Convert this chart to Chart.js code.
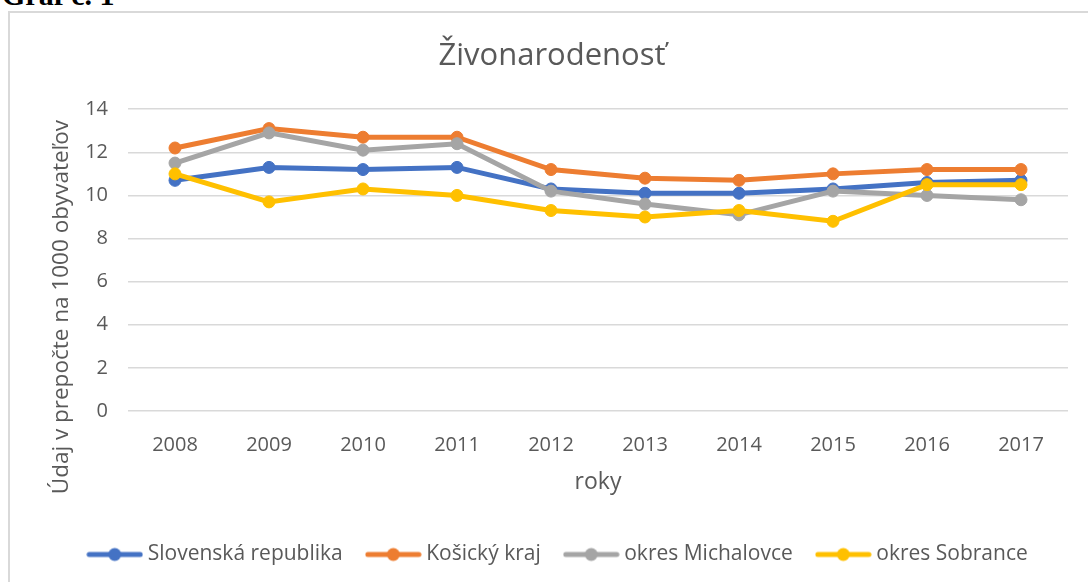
<!DOCTYPE html>
<html lang="sk">
<head>
<meta charset="utf-8">
<title>Živonarodenosť</title>
<script src="https://cdn.jsdelivr.net/npm/chart.js@4.4.0/dist/chart.umd.min.js"></script>
<style>
  html, body { margin: 0; padding: 0; overflow: hidden; background: #fff; width: 1088px; height: 582px; }
  #caption { position: absolute; left: 2px; top: -20px; font: bold 30px "Liberation Serif", "Times New Roman", serif; line-height: 30px; color: #000; }
  #box { position: absolute; left: 8px; top: 11px; width: 1094px; height: 575px; border: 2px solid #d9d9d9; }
  #chart { display: block; }
</style>
</head>
<body>
<div id="caption">Graf č. 1</div>
<div id="box"><canvas id="chart" width="1094" height="575"></canvas></div>
<script>
/* Graf č. 1 – živonarodenosť 2008–2017 */
const years = ["2008", "2009", "2010", "2011", "2012", "2013", "2014", "2015", "2016", "2017"];
const slovensko = [10.7, 11.3, 11.2, 11.3, 10.3, 10.1, 10.1, 10.3, 10.6, 10.7];
const kosickyKraj = [12.2, 13.1, 12.7, 12.7, 11.2, 10.8, 10.7, 11.0, 11.2, 11.2];
const michalovce = [11.5, 12.9, 12.1, 12.4, 10.2, 9.6, 9.1, 10.2, 10.0, 9.8];
const sobrance = [11.0, 9.7, 10.3, 10.0, 9.3, 9.0, 9.3, 8.8, 10.5, 10.5];
const seriesNames = ["Slovenská republika", "Košický kraj", "okres Michalovce", "okres Sobrance"];
const colors = ["#4472C4", "#ED7D31", "#A5A5A5", "#FFC000"];

const FONT = "'Open Sans', 'Noto Sans', sans-serif";
const TEXT = "#595959";

// legend sample: line with a dot, like in Excel
function legendIcon(color) {
  const c = document.createElement("canvas");
  c.width = 57;
  c.height = 16;
  const ctx = c.getContext("2d");
  ctx.strokeStyle = color;
  ctx.lineWidth = 5;
  ctx.lineCap = "round";
  ctx.beginPath();
  ctx.moveTo(3, 8);
  ctx.lineTo(54, 8);
  ctx.stroke();
  ctx.fillStyle = color;
  ctx.beginPath();
  ctx.arc(28.5, 8, 6.5, 0, Math.PI * 2);
  ctx.fill();
  return c;
}

// y title sits lower than the plot centre in the original, so it is drawn by hand
const yTitle = {
  id: "yTitle",
  afterLayout(chart) {
    // Excel legend is a bit right of the title centre
    chart.legend.left += 8;
    chart.legend.right += 8;
  },
  afterDraw(chart) {
    const { ctx, chartArea } = chart;
    ctx.save();
    ctx.translate(52, (chartArea.top + chartArea.bottom) / 2 + 47);
    ctx.rotate(-Math.PI / 2);
    ctx.fillStyle = TEXT;
    ctx.font = "22.5px " + FONT;
    ctx.textAlign = "center";
    ctx.textBaseline = "middle";
    ctx.fillText("Údaj v prepočte na 1000 obyvateľov", 0, 0);
    ctx.restore();
  },
};

const values = [slovensko, kosickyKraj, michalovce, sobrance];

new Chart(document.getElementById("chart"), {
  type: "line",
  data: {
    labels: years,
    datasets: values.map((v, i) => ({
      label: seriesNames[i],
      data: v,
      borderColor: colors[i],
      backgroundColor: colors[i],
      pointBackgroundColor: colors[i],
      pointBorderColor: colors[i],
      borderWidth: 5,
      pointRadius: 6,
      pointBorderWidth: 1,
      tension: 0,
      order: 3 - i,
    })),
  },
  options: {
    responsive: false,
    animation: false,
    layout: { padding: { left: 26, right: 36, top: 0, bottom: 13 } },
    plugins: {
      title: {
        display: true,
        text: "Živonarodenosť",
        color: TEXT,
        font: { family: FONT, size: 31, weight: "normal" },
        padding: { top: 25, bottom: 34 },
      },
      legend: {
        position: "bottom",
        labels: {
          color: TEXT,
          font: { family: FONT, size: 21 },
          usePointStyle: true,
          pointStyleWidth: 45,
          padding: 28,
          generateLabels: (chart) =>
            chart.data.datasets.map((ds, i) => ({
              text: ds.label,
              pointStyle: legendIcon(colors[i]),
              fillStyle: colors[i],
              strokeStyle: colors[i],
              lineWidth: 0,
              fontColor: TEXT,
              datasetIndex: i,
            })),
        },
      },
      tooltip: { enabled: false },
    },
    scales: {
      x: {
        offset: true,
        grid: { display: false, drawTicks: false },
        border: { display: false },
        ticks: { color: TEXT, font: { family: FONT, size: 20 }, padding: 22 },
        title: {
          display: true,
          text: "roky",
          color: TEXT,
          font: { family: FONT, size: 23 },
          padding: { top: 0, bottom: 20 },
        },
        afterFit: (scale) => { scale.height = 105; },
      },
      y: {
        min: 0,
        max: 14,
        ticks: { stepSize: 2, color: TEXT, font: { family: FONT, size: 20 }, padding: 20 },
        grid: { color: "#d9d9d9", lineWidth: 1.5, drawTicks: false },
        border: { display: false },
        afterFit: (scale) => { scale.width = 92; },
      },
    },
  },
  plugins: [yTitle],
});
</script>
</body>
</html>
